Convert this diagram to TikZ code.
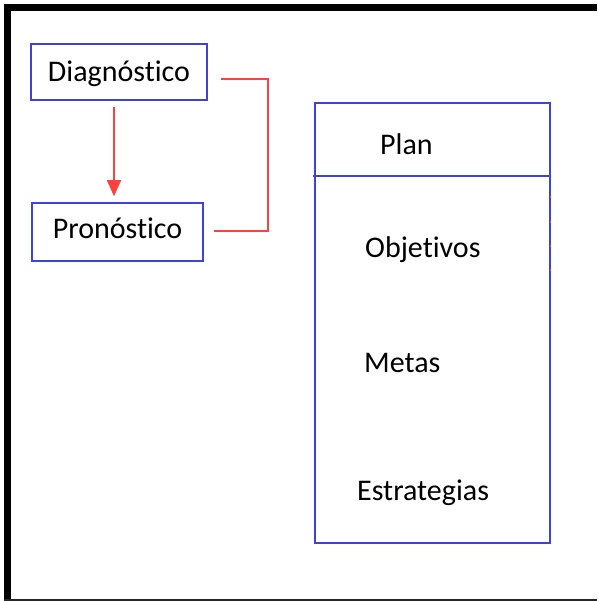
\documentclass[tikz,border=0pt]{standalone}
\usepackage{fontspec}
\setmainfont{Carlito}[Ligatures={NoCommon,NoContextual}]
\usetikzlibrary{arrows.meta}
\definecolor{boxblue}{RGB}{64,64,220}
\definecolor{linered}{RGB}{255,64,64}
\tikzstyle{block} = [draw=boxblue, line width=1.6pt, rectangle, inner sep=0pt, text depth=0pt]
\tikzstyle{invis} = [draw=none, inner sep=0pt, anchor=base west]
\tikzstyle{redline} = [draw=linered, line width=1.6pt]

\begin{document}
\begin{tikzpicture}[x=1pt,y=-1pt,font=\fontsize{30}{36}\selectfont,>={Triangle[length=16pt,width=14pt]}]
\useasboundingbox (0,0) rectangle (597,601);

% frame
\draw[line width=7pt] (7.5,601) -- (7.5,7.5) -- (597,7.5);
\draw[line width=2pt, black!85] (4,599.5) -- (597,599.5);

\node[block, minimum width=176pt, minimum height=56pt, text height=20pt] (diag) at (119,72) {Diagnóstico};
\node[block, minimum width=171pt, minimum height=58pt, text height=12pt] (prono) at (117.5,232) {Pronóstico\hspace{8pt}};

\node[block, minimum width=235pt, minimum height=440pt] (plan) at (432.5,323) {};
\draw[boxblue, line width=2.6pt] (313,176) -- (plan.east |- 0,176);

\node[invis] (plantxt) at (380,155) {Plan};
\node[invis] (obj) at (365,258) {Objetivos};
\node[invis] (metas) at (364,372) {Metas};
\node[invis] (estr) at (357,500) {Estrategias};

\coordinate (d0) at ([xshift=-5pt,yshift=-6pt]diag.south);
\coordinate (p0) at ([xshift=-3.5pt,yshift=6pt]prono.north);
\coordinate (d1) at ([xshift=13pt,yshift=-7pt]diag.east);
\coordinate (p1) at ([xshift=10pt,yshift=1pt]prono.east);

\path
(d0) edge [redline, ->] node {} (p0);
\draw[redline] (d1) -| (268,231) -- (p1);

% small red marks on the plan edge
\foreach \y in {197,222,246,270}
  \draw[linered, line width=1pt] ([yshift=-1pt]plan.east |- 0,\y) -- ([yshift=1pt]plan.east |- 0,\y);

\end{tikzpicture}
\end{document}
